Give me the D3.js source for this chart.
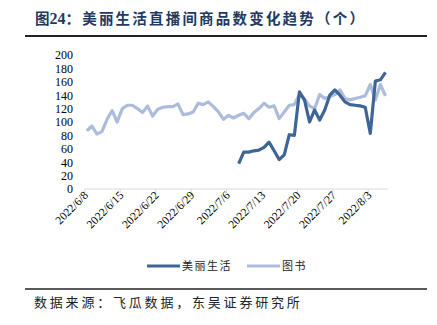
<!DOCTYPE html>
<html>
<head>
<meta charset="utf-8">
<script src="https://cdn.jsdelivr.net/npm/d3@7/dist/d3.min.js"></script>
<style>
  html, body { margin: 0; padding: 0; background: #fff; }
  svg { display: block; }
</style>
</head>
<body>
<svg id="chart" width="437" height="325"></svg>
<script>
// Daily counts, 2022/6/8 – 2022/8/6
const startDate = "2022-06-08";
const seriesNames = ["美丽生活", "图书"];
const beautyValues = [
  null, null, null, null, null, null, null, null, null, null,
  null, null, null, null, null, null, null, null, null, null,
  null, null, null, null, null, null, null, null, null, null,
  38, 55, 55, 57, 58, 62, 70, 57, 44, 51,
  81, 80, 145, 133, 100, 118, 103, 118, 140, 148,
  140, 130, 126, 125, 124, 122, 83, 161, 163, 174
];
const bookValues = [
  87, 94, 82, 86, 104, 117, 100, 120, 125, 125,
  120, 114, 124, 109, 119, 122, 123, 123, 127, 111,
  112, 115, 128, 126, 130, 123, 115, 104, 110, 106,
  110, 113, 105, 114, 120, 128, 122, 124, 105, 115,
  125, 126, 141, 134, 124, 120, 141, 135, 138, 141,
  148, 135, 133, 135, 137, 139, 156, 133, 156, 139
];
const xTickLabels = ["2022/6/8", "2022/6/15", "2022/6/22", "2022/6/29", "2022/7/6",
                     "2022/7/13", "2022/7/20", "2022/7/27", "2022/8/3"];
const yTicks = [0, 20, 40, 60, 80, 100, 120, 140, 160, 180, 200];

const colors = ["#3d6597", "#adbcdb"];

const svg = d3.select("#chart");
const parse = d3.timeParse("%Y-%m-%d");
const parseLabel = d3.timeParse("%Y/%m/%d");
const day0 = parse(startDate);
const dates = bookValues.map((_, i) => d3.timeDay.offset(day0, i));

const plot = { left: 84.3, right: 388, top: 55, bottom: 189 };

const x = d3.scaleTime()
  .domain([day0, d3.timeDay.offset(day0, bookValues.length)])
  .range([plot.left, plot.right]);
const y = d3.scaleLinear().domain([0, 200]).range([plot.bottom, plot.top]);

// each point sits in the middle of its day
const xMid = d => x(d3.timeHour.offset(d, 12));

// Title
const title = svg.append("text")
  .attr("x", 35).attr("y", 24)
  .attr("font-family", "'Noto Sans CJK SC', sans-serif")
  .attr("font-weight", "bold")
  .attr("font-size", 14.5)
  .attr("fill", "#1f3a63");
title.append("tspan").text("图");
title.append("tspan")
  .attr("font-family", "'Liberation Serif', 'Times New Roman', serif")
  .attr("font-size", 16)
  .text("24");
title.append("tspan").attr("letter-spacing", 2.2)
  .text("：美丽生活直播间商品数变化趋势（个）");

svg.append("line")
  .attr("x1", 25).attr("x2", 427).attr("y1", 36).attr("y2", 36)
  .attr("stroke", "#222").attr("stroke-width", 2);

// Y axis labels (no axis line)
const yAxis = d3.axisLeft(y).tickValues(yTicks).tickSize(0).tickPadding(0);
const gy = svg.append("g").attr("transform", `translate(73,0)`).call(yAxis);
gy.select(".domain").remove();
gy.selectAll("text")
  .attr("font-family", "'Liberation Serif', 'Times New Roman', serif")
  .attr("font-size", 12)
  .attr("fill", "#000");

// X axis
const xAxis = d3.axisBottom(x)
  .tickValues(xTickLabels.map(parseLabel))
  .tickSize(4)
  .tickFormat(d => d3.timeFormat("%Y/%-m/%-d")(d));
const gx = svg.append("g").attr("transform", `translate(0,${plot.bottom})`).call(xAxis);
gx.select(".domain").attr("stroke", "#d9d9d9").attr("d", `M${plot.left},0H${plot.right}`);
gx.selectAll(".tick line").attr("stroke", "#d9d9d9");
gx.selectAll("text")
  .attr("font-family", "'Liberation Serif', 'Times New Roman', serif")
  .attr("font-size", 11.5)
  .attr("fill", "#000")
  .attr("text-anchor", "end")
  .attr("dy", null)
  .attr("y", 0)
  .attr("transform", "translate(4,7) rotate(-45)");

// Lines
const line = d3.line()
  .defined(d => d.v != null)
  .x(d => xMid(d.date))
  .y(d => y(d.v));

const series = [beautyValues, bookValues];
// book line drawn first so the beauty line sits on top
[1, 0].forEach(k => {
  svg.append("path")
    .datum(series[k].map((v, i) => ({ date: dates[i], v })))
    .attr("fill", "none")
    .attr("stroke", colors[k])
    .attr("stroke-width", 3.2)
    .attr("stroke-linejoin", "round")
    .attr("d", line);
});

// Legend
const legend = [
  { name: seriesNames[0], color: colors[0], x: 147 },
  { name: seriesNames[1], color: colors[1], x: 247 }
];
const lg = svg.append("g");
legend.forEach(l => {
  lg.append("line")
    .attr("x1", l.x).attr("x2", l.x + 33)
    .attr("y1", 266).attr("y2", 266)
    .attr("stroke", l.color).attr("stroke-width", 3);
  lg.append("text")
    .attr("x", l.x + 35).attr("y", 270)
    .attr("font-family", "'Noto Sans CJK SC', sans-serif")
    .attr("font-size", 11)
    .attr("letter-spacing", 1.5)
    .attr("fill", "#222")
    .text(l.name);
});

svg.append("line")
  .attr("x1", 25).attr("x2", 427).attr("y1", 289).attr("y2", 289)
  .attr("stroke", "#222").attr("stroke-width", 1.5);

svg.append("text")
  .attr("x", 34).attr("y", 307)
  .attr("font-family", "'Noto Sans CJK SC', sans-serif")
  .attr("font-size", 13)
  .attr("letter-spacing", 2.8)
  .attr("fill", "#222")
  .text("数据来源：飞瓜数据，东吴证券研究所");
</script>
</body>
</html>
